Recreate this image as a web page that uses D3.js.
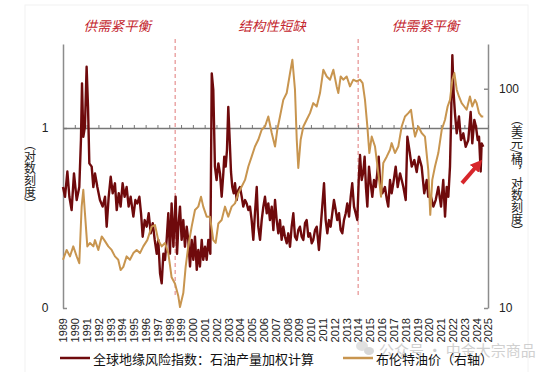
<!DOCTYPE html>
<html>
<head>
<meta charset="utf-8">
<script src="https://cdn.jsdelivr.net/npm/d3@7"></script>
<style>
  body { margin: 0; background: #fff; }
  svg text { font-family: "Liberation Sans", Arial, "Noto Sans CJK SC", sans-serif; }
  .cjk { font-family: "Noto Sans CJK SC", "Liberation Sans", sans-serif !important; }
</style>
</head>
<body>
<svg id="chart" width="550" height="372"></svg>
<script>
// year ticks on the bottom
var years = d3.range(1989, 2026);
// left axis (log) tick values and labels
var leftTicks = [0.1, 1];
var leftLabels = ["0", "1"];
// right axis (log) tick values and labels
var rightTicks = [10, 100];
var rightLabels = ["10", "100"];
// regime break dates (dashed lines)
var breaks = [1998.5, 2014.0];
var regimes = [
  { label: "供需紧平衡", at: 1993.6 },
  { label: "结构性短缺", at: 2006.7 },
  { label: "供需紧平衡", at: 2019.7 }
];

// Global geopolitical risk index, oil production weighted  [year, value]
var gpr = [
  [1989.0,0.47],[1989.17,0.415],[1989.37,0.573],[1989.54,0.415],[1989.73,0.35],[1989.93,0.56],
  [1990.16,0.398],[1990.38,0.47],[1990.52,0.858],[1990.61,1.77],[1990.72,0.895],[1990.86,1.02],
  [1991.0,2.19],[1991.12,1.31],[1991.23,0.636],[1991.43,0.61],[1991.57,0.47],[1991.71,0.56],[1991.91,0.47],
  [1992.13,0.398],[1992.36,0.366],[1992.56,0.415],[1992.7,0.283],[1992.87,0.415],
  [1993.04,0.536],[1993.21,0.434],[1993.4,0.493],[1993.55,0.35],[1993.72,0.434],[1993.88,0.366],
  [1994.05,0.493],[1994.22,0.415],[1994.39,0.47],[1994.56,0.366],[1994.73,0.415],[1994.96,0.322],
  [1995.13,0.398],[1995.29,0.381],[1995.47,0.415],[1995.61,0.336],[1995.75,0.249],[1995.92,0.308],
  [1996.09,0.283],[1996.26,0.336],[1996.43,0.26],[1996.6,0.296],[1996.77,0.239],[1996.94,0.2],
  [1997.07,0.239],[1997.22,0.156],[1997.36,0.137],[1997.5,0.2],[1997.64,0.185],[1997.78,0.239],[1997.92,0.336],
  [1998.06,0.2],[1998.2,0.381],[1998.35,0.219],[1998.54,0.415],[1998.66,0.2],[1998.77,0.283],[1998.91,0.366],
  [1999.05,0.239],[1999.19,0.308],[1999.33,0.219],[1999.48,0.283],[1999.61,0.239],[1999.76,0.17],[1999.9,0.239],
  [2000.04,0.185],[2000.18,0.249],[2000.33,0.163],[2000.46,0.21],[2000.6,0.17],[2000.75,0.239],[2000.88,0.185],
  [2001.03,0.219],[2001.17,0.185],[2001.31,0.239],[2001.48,0.2],[2001.6,2.01],[2001.73,1.63],[2001.87,0.61],
  [2002.01,0.514],[2002.16,0.636],[2002.3,0.56],[2002.44,0.415],[2002.58,0.56],[2002.66,0.693],[2002.78,0.61],[2002.89,0.755],
  [2003.0,1.31],[2003.12,0.858],[2003.23,0.57],[2003.34,0.47],[2003.46,0.434],[2003.57,0.493],[2003.71,0.398],[2003.85,0.452],
  [2003.99,0.47],[2004.14,0.415],[2004.27,0.366],[2004.42,0.398],[2004.56,0.381],[2004.7,0.35],[2004.84,0.366],
  [2004.98,0.308],[2005.12,0.239],[2005.26,0.336],[2005.41,0.47],[2005.54,0.283],[2005.69,0.239],[2005.83,0.308],
  [2005.97,0.366],[2006.11,0.415],[2006.26,0.336],[2006.39,0.381],[2006.53,0.308],[2006.68,0.366],[2006.82,0.271],
  [2006.96,0.398],[2007.1,0.308],[2007.24,0.26],[2007.38,0.308],[2007.52,0.239],[2007.66,0.283],[2007.8,0.249],
  [2007.95,0.229],[2008.08,0.26],[2008.23,0.219],[2008.37,0.283],[2008.51,0.336],[2008.65,0.249],[2008.8,0.239],
  [2008.93,0.271],[2009.07,0.283],[2009.22,0.249],[2009.36,0.239],[2009.5,0.296],[2009.64,0.308],[2009.78,0.249],
  [2009.92,0.26],[2010.07,0.229],[2010.2,0.239],[2010.35,0.271],[2010.49,0.283],[2010.68,0.21],[2010.83,0.283],
  [2010.96,0.366],[2011.11,0.493],[2011.25,0.308],[2011.39,0.26],[2011.53,0.308],[2011.67,0.283],[2011.81,0.336],
  [2011.95,0.398],[2012.1,0.35],[2012.23,0.308],[2012.38,0.336],[2012.52,0.271],[2012.66,0.26],[2012.8,0.308],
  [2012.95,0.336],[2013.08,0.381],[2013.23,0.322],[2013.37,0.415],[2013.5,0.493],[2013.65,0.366],[2013.79,0.336],
  [2013.93,0.308],[2014.05,0.514],[2014.16,0.708],[2014.3,0.514],[2014.44,0.57],[2014.55,0.693],[2014.66,0.47],
  [2014.78,0.366],[2014.92,0.61],[2015.06,0.493],[2015.2,0.415],[2015.34,0.514],[2015.49,0.47],[2015.62,0.56],
  [2015.74,0.693],[2015.85,0.514],[2016.05,0.434],[2016.27,0.47],[2016.44,0.398],[2016.55,0.366],[2016.7,0.514],
  [2016.84,0.434],[2016.98,0.493],[2017.18,0.61],[2017.35,0.47],[2017.55,0.56],[2017.69,0.514],[2017.83,0.47],
  [2018.03,0.398],[2018.17,0.895],[2018.34,0.755],[2018.54,0.61],[2018.76,0.664],[2018.96,0.57],[2019.15,0.693],
  [2019.38,0.61],[2019.6,0.434],[2019.81,0.514],[2019.94,0.415],[2020.17,0.415],[2020.37,0.366],[2020.57,0.398],
  [2020.79,0.47],[2021.02,0.366],[2021.21,0.514],[2021.36,0.322],[2021.5,0.47],[2021.64,0.415],[2021.78,0.61],
  [2021.86,1.02],[2021.98,2.54],[2022.09,1.56],[2022.2,1.21],[2022.35,0.934],[2022.54,1.16],[2022.71,0.858],
  [2022.91,0.934],[2023.11,0.787],[2023.33,0.858],[2023.53,1.23],[2023.67,0.822],[2023.84,1.11],[2023.98,1.02],
  [2024.13,0.858],[2024.24,0.895],[2024.38,0.573],[2024.46,0.822],[2024.6,0.787]
];

// Brent crude, USD/bbl  [year, value]
var brent = [
  [1989.0,16.6],[1989.31,18.4],[1989.59,17.2],[1989.87,19.1],[1990.16,17.2],[1990.38,16.0],[1990.58,29],
  [1990.72,34.6],[1990.86,27],[1991.06,19.1],[1991.29,19.8],[1991.57,19.1],[1991.71,20.4],[1991.99,18.4],
  [1992.28,21.2],[1992.5,20.4],[1992.84,19.1],[1993.12,18.4],[1993.4,17.2],[1993.68,16.6],[1993.88,14.9],
  [1994.11,15.4],[1994.39,17.2],[1994.67,16.6],[1994.96,17.8],[1995.24,18.4],[1995.52,17.8],[1995.8,19.1],
  [1996.14,20.4],[1996.51,23.5],[1996.79,23.9],[1997.07,20.4],[1997.36,19.1],[1997.64,19.8],[1997.92,17.8],
  [1998.2,13.8],[1998.49,12.9],[1998.77,11.3],[1998.91,10.1],[1999.19,11.7],[1999.39,15.4],[1999.61,19.1],
  [1999.9,23.5],[2000.18,28],[2000.46,29],[2000.69,32.2],[2000.88,29],[2001.17,26.1],[2001.45,26.1],
  [2001.73,20.4],[2001.93,19.8],[2002.16,24.3],[2002.44,25.2],[2002.72,29],[2003.0,26.1],[2003.29,29],
  [2003.57,30],[2003.85,33.4],[2004.14,35.8],[2004.42,38.4],[2004.7,44.2],[2004.98,49],[2005.26,54.5],
  [2005.54,58.5],[2005.83,65],[2006.11,67.3],[2006.39,74.7],[2006.68,62.8],[2006.96,54.5],[2007.15,65],
  [2007.38,74.7],[2007.66,89],[2007.95,95.6],[2008.23,117.9],[2008.43,135.6],[2008.65,99],[2008.8,58.5],
  [2008.93,43.5],[2009.13,58.5],[2009.36,67.3],[2009.64,72.2],[2009.92,77.4],[2010.2,86],[2010.49,83],
  [2010.77,95.6],[2011.05,122],[2011.34,113.8],[2011.62,110],[2011.9,122],[2012.18,102.5],[2012.32,95.6],
  [2012.52,113.8],[2012.74,110],[2013.03,113.8],[2013.31,102.5],[2013.59,110],[2013.87,108],[2014.16,110],
  [2014.38,106],[2014.58,89],[2014.78,67.3],[2014.95,50.9],[2015.15,60.5],[2015.43,54.5],[2015.71,41.2],
  [2015.94,32.2],[2016.13,45.9],[2016.42,49],[2016.7,52.7],[2016.84,56.5],[2017.12,50.9],[2017.4,54.5],
  [2017.69,67.3],[2017.97,74.7],[2018.25,77.4],[2018.48,80.2],[2018.67,67.3],[2018.82,60.5],[2019.1,67.3],
  [2019.38,62.8],[2019.66,60.5],[2019.94,42.7],[2020.11,26.6],[2020.28,38.4],[2020.51,44.2],[2020.79,50.9],
  [2021.08,65],[2021.36,72.2],[2021.58,83],[2021.78,89],[2021.98,110],[2022.15,117.9],[2022.35,99],
  [2022.54,92.2],[2022.77,86],[2022.99,83],[2023.19,80.2],[2023.47,92.2],[2023.67,83],[2023.9,89],
  [2024.04,86],[2024.24,77.4],[2024.46,74.7],[2024.6,74.7]
];

// arrow annotation pointing at the latest reading  [year, gpr value]
var arrowFrom = [2022.8, 0.494];
var arrowTo = [2024.4, 0.647];

var svg = d3.select("#chart");
var plotLeft = 63, plotRight = 488, plotTop = 44, plotBottom = 308;

var x = d3.scaleLinear().domain([1989, 2025]).range([plotLeft, plotRight]);
var yL = d3.scaleLog().domain([0.1, 2.93]).range([plotBottom, plotTop]);
var yR = d3.scaleLog().domain([10, 160]).range([plotBottom, plotTop]);

var axisGray = "#8c8c8c";

// faint frame
svg.append("rect")
  .attr("x", 25).attr("y", 5).attr("width", 503).attr("height", 372)
  .attr("fill", "none").attr("stroke", "#f2f2f2");

// regime titles
svg.selectAll(".regime")
  .data(regimes)
  .enter().append("text")
  .attr("class", "cjk")
  .attr("x", function(d) { return x(d.at); })
  .attr("y", 25)
  .attr("text-anchor", "middle")
  .attr("dominant-baseline", "central")
  .style("font-size", "13.5px")
  .style("font-style", "italic")
  .attr("fill", "#c3262e")
  .text(function(d) { return d.label; });

// dashed regime breaks
svg.selectAll(".brk")
  .data(breaks)
  .enter().append("line")
  .attr("x1", function(d) { return x(d); })
  .attr("x2", function(d) { return x(d); })
  .attr("y1", plotTop - 5)
  .attr("y2", plotBottom - 11)
  .attr("stroke", "#e07a7a")
  .attr("stroke-width", 1)
  .attr("stroke-dasharray", "4,3");

// left axis
var gL = svg.append("g")
  .attr("transform", "translate(" + plotLeft + ",0)")
  .call(d3.axisRight(yL).tickValues(leftTicks)
    .tickFormat(function(d, i) { return leftLabels[i]; })
    .tickSize(4).tickSizeOuter(0));
gL.select(".domain").attr("stroke", axisGray).attr("stroke-width", 1.5);
gL.selectAll(".tick line").attr("stroke", axisGray).attr("stroke-width", 1.5);
gL.selectAll(".tick text")
  .attr("x", -18).attr("text-anchor", "middle")
  .style("font-size", "12px").attr("fill", "#222");

// right axis
var gR = svg.append("g")
  .attr("transform", "translate(" + plotRight + ",0)")
  .call(d3.axisLeft(yR).tickValues(rightTicks)
    .tickFormat(function(d, i) { return rightLabels[i]; })
    .tickSize(4).tickSizeOuter(0));
gR.select(".domain").attr("stroke", axisGray).attr("stroke-width", 1.5);
gR.selectAll(".tick line").attr("stroke", axisGray).attr("stroke-width", 1.5);
gR.selectAll(".tick text")
  .attr("x", 11).attr("text-anchor", "start")
  .style("font-size", "12px").attr("fill", "#222");

// horizontal line at 1 with year ticks
var gMid = svg.append("g")
  .attr("transform", "translate(0," + yL(1) + ")")
  .call(d3.axisTop(x).tickValues(years.slice(1)).tickFormat("").tickSize(3).tickSizeOuter(0));
gMid.select(".domain").attr("stroke", "#777").attr("stroke-width", 1.5);
gMid.selectAll(".tick line").attr("stroke", "#777").attr("stroke-width", 1);

// year labels at the bottom
var gX = svg.append("g")
  .attr("transform", "translate(0," + plotBottom + ")")
  .call(d3.axisBottom(x).tickValues(years).tickFormat(d3.format("d")).tickSize(0));
gX.select(".domain").remove();
gX.selectAll(".tick text")
  .attr("transform", "rotate(-90)")
  .attr("text-anchor", "end")
  .attr("x", -10).attr("y", 0).attr("dy", "0.35em")
  .style("font-size", "11px").attr("fill", "#222");

// axis titles (vertical CJK)
svg.append("text")
  .attr("class", "cjk")
  .attr("x", 30).attr("y", 138)
  .style("writing-mode", "vertical-rl")
  .style("font-size", "12px").attr("fill", "#222")
  .text("（对数刻度）");
svg.append("text")
  .attr("class", "cjk")
  .attr("x", 517).attr("y", 113)
  .style("writing-mode", "vertical-rl")
  .style("font-size", "12px").attr("fill", "#222")
  .text("（美元/桶，对数刻度）");

// series
var lineL = d3.line().x(function(d) { return x(d[0]); }).y(function(d) { return yL(d[1]); });
var lineR = d3.line().x(function(d) { return x(d[0]); }).y(function(d) { return yR(d[1]); });

svg.append("path").datum(gpr)
  .attr("d", lineL).attr("fill", "none")
  .attr("stroke", "#6f0a0c").attr("stroke-width", 2.4).attr("stroke-linejoin", "round");

svg.append("path").datum(brent)
  .attr("d", lineR).attr("fill", "none")
  .attr("stroke", "#c8954f").attr("stroke-width", 2).attr("stroke-linejoin", "round");

// arrow
svg.append("defs").append("marker")
  .attr("id", "head").attr("viewBox", "0 0 10 10")
  .attr("refX", 2).attr("refY", 5)
  .attr("markerWidth", 3).attr("markerHeight", 3)
  .attr("orient", "auto")
  .append("path").attr("d", "M0,0L10,5L0,10Z").attr("fill", "#d7262b");
svg.append("line")
  .attr("x1", x(arrowFrom[0])).attr("y1", yL(arrowFrom[1]))
  .attr("x2", x(arrowTo[0]) - 5).attr("y2", yL(arrowTo[1]) + 5)
  .attr("stroke", "#d7262b").attr("stroke-width", 4)
  .attr("marker-end", "url(#head)");

// watermark
var wm = svg.append("g").attr("opacity", 0.55);
wm.append("ellipse").attr("cx", 362).attr("cy", 346).attr("rx", 6).attr("ry", 5).attr("fill", "#c8c8c8");
wm.append("ellipse").attr("cx", 369).attr("cy", 351).attr("rx", 5).attr("ry", 4).attr("fill", "#b8b8b8");
wm.append("text").attr("class", "cjk")
  .attr("x", 379).attr("y", 349).attr("dominant-baseline", "central")
  .style("font-size", "15px").attr("fill", "#aaa")
  .text("公众号 · 中金大宗商品");

// legend
var legend = [
  { label: "全球地缘风险指数：石油产量加权计算", color: "#6f0a0c", x0: 60 },
  { label: "布伦特油价（右轴）", color: "#c8954f", x0: 343 }
];
var lg = svg.selectAll(".lg").data(legend).enter().append("g");
lg.append("line")
  .attr("x1", function(d) { return d.x0; }).attr("x2", function(d) { return d.x0 + 30; })
  .attr("y1", 358).attr("y2", 358)
  .attr("stroke", function(d) { return d.color; }).attr("stroke-width", 2.5);
lg.append("text").attr("class", "cjk")
  .attr("x", function(d) { return d.x0 + 33; }).attr("y", 358)
  .attr("dominant-baseline", "central")
  .style("font-size", "13px").attr("fill", "#111")
  .text(function(d) { return d.label; });
</script>
</body>
</html>
